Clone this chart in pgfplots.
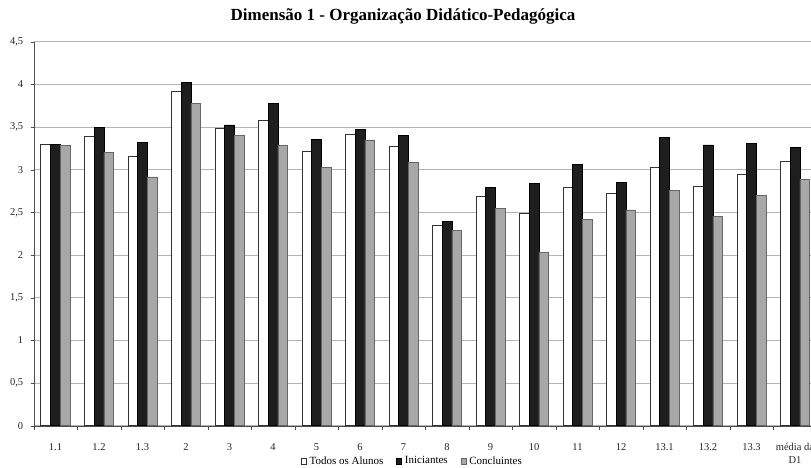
\documentclass[border=0pt]{standalone}
\usepackage{fontspec}
\setmainfont{Liberation Serif}
\usepackage{pgfplots}
\usepackage{pgfplotstable}
\pgfplotsset{compat=1.18}

\definecolor{barblack}{HTML}{1E1E1E}
\definecolor{bargray}{HTML}{A8A8A8}
\definecolor{gridgray}{HTML}{B4B4B4}

% categoria  todos  iniciantes  concluintes
\pgfplotstableread{
x  todos  inic   concl
0  3.30   3.30   3.285
1  3.39   3.50   3.20
2  3.155  3.32   2.915
3  3.915  4.02   3.775
4  3.48   3.525  3.40
5  3.575  3.78   3.285
6  3.22   3.355  3.03
7  3.42   3.47   3.35
8  3.275  3.40   3.085
9  2.35   2.395  2.29
10 2.69   2.79   2.545
11 2.49   2.84   2.03
12 2.795  3.06   2.415
13 2.725  2.85   2.53
14 3.025  3.375  2.76
15 2.81   3.29   2.455
16 2.95   3.31   2.70
17 3.10   3.265  2.885
}\dados

\begin{document}
\begin{tikzpicture}
\begin{axis}[
  name=ax,
  scale only axis,
  width=783pt, height=384pt,
  ybar=0pt, bar width=9.8pt,
  xmin=-0.5, xmax=17.5,
  ymin=0, ymax=4.5,
  axis x line*=bottom, axis y line*=left,
  axis line style={draw=black!70, -},
  ytick={0,0.5,1,1.5,2,2.5,3,3.5,4,4.5},
  ymajorgrids, major grid style={draw=gridgray, line width=0.8pt},
  xtick={0,...,17},
  xticklabels={1.1,1.2,1.3,2,3,4,5,6,7,8,9,10,11,12,13.1,13.2,13.3,{média da\\D1}},
  minor xtick={-0.5,0.5,...,17.5},
  major x tick style={draw=none},
  minor x tick style={draw=black!70},
  y tick style={draw=black!70},
  tick align=outside,
  major tick length=3pt, minor tick length=4pt,
  xtick pos=bottom, ytick pos=left,
  /pgf/number format/use comma,
  /pgf/number format/assume math mode=true,
  tick label style={font=\fontsize{10.5}{12.5}\selectfont, text=black!85},
  xticklabel style={align=center, yshift=-11pt},
  yticklabel style={xshift=-4pt},
  title={Dimensão 1 - Organização Didático-Pedagógica},
  title style={font=\bfseries\fontsize{17}{20}\selectfont, at={(0.4716,1)}, anchor=base, yshift=15pt},
  legend columns=3,
  legend style={draw=none, fill=none, at={(0.483,-0.092)}, anchor=center,
    font=\fontsize{11}{13}\selectfont,
    nodes={inner xsep=1pt},
    /tikz/every odd column/.append style={column sep=2pt},
    /tikz/every even column/.append style={column sep=12pt}},
  legend image code/.code={\draw[#1] (0pt,-3pt) rectangle (5pt,3pt);},
]
\addplot[fill=white, draw=black!80, line width=0.6pt] table[x=x, y=todos]{\dados};
\addlegendentry{Todos os Alunos}
\addplot[fill=barblack, draw=black, line width=0.6pt] table[x=x, y=inic]{\dados};
\addlegendentry{Iniciantes}
\addplot[fill=bargray, draw=black!60, line width=0.6pt] table[x=x, y=concl]{\dados};
\addlegendentry{Concluintes}
\end{axis}
\pgfresetboundingbox
\path[use as bounding box] ([shift={(-33.75pt,-41.3pt)}]ax.south west) rectangle ([shift={(777.25pt,425.7pt)}]ax.south west);
\end{tikzpicture}
\end{document}
